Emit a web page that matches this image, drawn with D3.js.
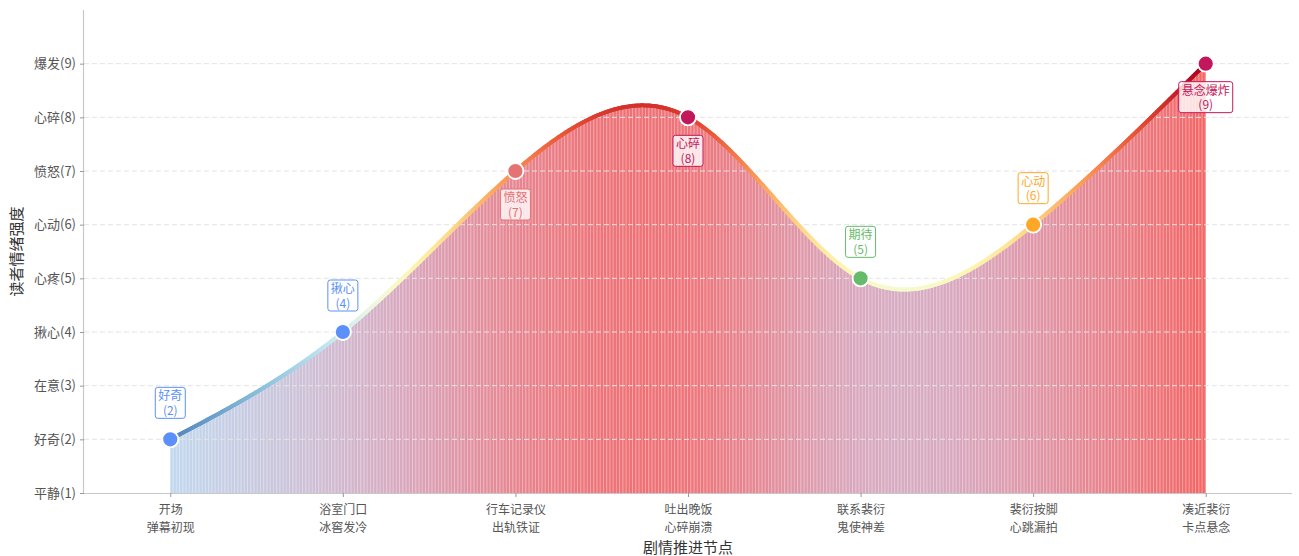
<!DOCTYPE html>
<html>
<head>
<meta charset="utf-8">
<script src="https://cdn.jsdelivr.net/npm/d3@7"></script>
<style>
  body { margin: 0; background: #fff; }
  svg text { font-family: "Noto Sans CJK SC", "Noto Sans", sans-serif; }
</style>
</head>
<body>
<div id="chart"></div>
<script>
// plot nodes
var nodeLabels = [
  ['开场', '弹幕初现'],
  ['浴室门口', '冰窖发冷'],
  ['行车记录仪', '出轨铁证'],
  ['吐出晚饭', '心碎崩溃'],
  ['联系裴衍', '鬼使神差'],
  ['裴衍按脚', '心跳漏拍'],
  ['凑近裴衍', '卡点悬念']
]
var emotionValues = [2, 4, 7, 8, 5, 6, 9]
var pointNames = ['好奇', '揪心', '愤怒', '心碎', '期待', '心动', '悬念爆炸']
var pointColors = ['#5b8ff9', '#5b8ff9', '#e57373', '#c2185b', '#66bb6a', '#ffa726', '#c2185b']
var labelAbove = [true, true, false, false, true, true, false]

var yTickValues = [1, 2, 3, 4, 5, 6, 7, 8, 9]
var yTickLabels = ['平静(1)', '好奇(2)', '在意(3)', '揪心(4)', '心疼(5)', '心动(6)', '愤怒(7)', '心碎(8)', '爆发(9)']

var margin = { top: 10, left: 84, right: 7, bottom: 63 }
var width = 1299 - margin.left - margin.right
var height = 556 - margin.top - margin.bottom

var svg = d3
  .select('#chart')
  .append('svg')
  .attr('width', width + margin.left + margin.right)
  .attr('height', height + margin.top + margin.bottom)
  .append('g')
  .attr('transform', `translate(${margin.left},${margin.top})`)

var xPositionScale = d3.scaleLinear().domain([-0.5, 6.5]).range([0, width])
var yPositionScale = d3.scaleLinear().domain([1, 10]).range([height, 0])

// colours: line follows RdYlBu reversed, fill goes blue -> pink -> red
var lineColor = v => d3.interpolateRdYlBu(1 - (v - 1) / 8)
var fillColor = d3
  .scaleLinear()
  .domain([2, 5, 9])
  .range(['#c2d8ee', '#d9a8be', '#f46464'])
  .interpolate(d3.interpolateRgb)
  .clamp(true)

var data = emotionValues.map((v, i) => ({ i: i, v: v }))

// smooth curve, sampled so we can colour it piece by piece
var line = d3
  .line()
  .x(d => xPositionScale(d.i))
  .y(d => yPositionScale(d.v))
  .curve(d3.curveNatural)

var guide = svg
  .append('path')
  .attr('d', line(data))
  .attr('fill', 'none')
  .attr('stroke', 'none')

var node = guide.node()
var total = node.getTotalLength()
var samples = d3.range(0, 801).map(k => {
  var p = node.getPointAtLength((total * k) / 800)
  return { x: p.x, y: p.y }
})
samples.sort((a, b) => a.x - b.x)

function curveYAt(px) {
  var idx = d3.bisector(d => d.x).left(samples, px)
  if (idx <= 0) return samples[0].y
  if (idx >= samples.length) return samples[samples.length - 1].y
  var a = samples[idx - 1]
  var b = samples[idx]
  var t = b.x === a.x ? 0 : (px - a.x) / (b.x - a.x)
  return a.y + (b.y - a.y) * t
}

/* striped fill under the curve */
var x0 = xPositionScale(0)
var x1 = xPositionScale(6)
var step = (x1 - x0) / 320
var stripes = d3.range(0, 320).map(k => x0 + k * step)

var fillG = svg.append('g').attr('class', 'fill')
stripes.forEach(sx => {
  var cy = curveYAt(sx + step / 2)
  var v = yPositionScale.invert(cy)
  fillG
    .append('rect')
    .attr('x', sx)
    .attr('y', cy)
    .attr('width', step + 0.2)
    .attr('height', height - cy)
    .attr('fill', fillColor(v))
  fillG
    .append('rect')
    .attr('x', sx + step - 0.9)
    .attr('y', cy)
    .attr('width', 0.9)
    .attr('height', height - cy)
    .attr('fill', '#fff')
    .attr('opacity', 0.42)
})

/* grid */
svg
  .append('g')
  .attr('class', 'grid')
  .selectAll('line')
  .data(yTickValues.slice(1))
  .enter()
  .append('line')
  .attr('x1', 0)
  .attr('x2', width)
  .attr('y1', d => yPositionScale(d))
  .attr('y2', d => yPositionScale(d))
  .attr('stroke', '#e4e4e4')
  .attr('stroke-width', 1)
  .attr('stroke-dasharray', '5,3')

/* gradient line */
var lineG = svg.append('g').attr('class', 'curve')
for (var k = 0; k < samples.length - 1; k++) {
  var a = samples[k]
  var b = samples[k + 1]
  var v = yPositionScale.invert((a.y + b.y) / 2)
  lineG
    .append('line')
    .attr('x1', a.x)
    .attr('y1', a.y)
    .attr('x2', b.x)
    .attr('y2', b.y)
    .attr('stroke', lineColor(v))
    .attr('stroke-width', 4)
    .attr('stroke-linecap', 'round')
}

/* axes */
var xAxis = d3
  .axisBottom(xPositionScale)
  .tickValues(d3.range(0, 7))
  .tickSize(4)
  .tickFormat('')
var xg = svg
  .append('g')
  .attr('class', 'axis x-axis')
  .attr('transform', 'translate(0,' + height + ')')
  .call(xAxis)

var yAxis = d3
  .axisLeft(yPositionScale)
  .tickValues(yTickValues)
  .tickSize(4)
  .tickFormat((d, i) => yTickLabels[i])
var yg = svg
  .append('g')
  .attr('class', 'axis y-axis')
  .call(yAxis)

svg.selectAll('.axis .domain').attr('stroke', '#c8c8c8').attr('stroke-width', 1.2)
svg.selectAll('.axis .tick line').attr('stroke', '#999')
yg.select('.domain').attr('d', `M-0.5,${height}V0`)
xg.select('.domain').attr('d', `M0,0.5H${width}`)
yg.selectAll('.tick text')
  .attr('x', -8)
  .attr('fill', '#555')
  .style('font-size', '13px')

// two-line node labels, each line its own text
xg.selectAll('.tick').each(function(d) {
  var g = d3.select(this)
  nodeLabels[d].forEach((s, j) => {
    g.append('text')
      .attr('fill', '#555')
      .attr('text-anchor', 'middle')
      .attr('x', 0)
      .attr('y', 21 + j * 17.5)
      .style('font-size', '12px')
      .text(s)
  })
})

svg
  .append('text')
  .attr('x', width / 2)
  .attr('y', height + 60)
  .attr('text-anchor', 'middle')
  .attr('fill', '#333')
  .style('font-size', '15px')
  .text('剧情推进节点')

svg
  .append('text')
  .attr('transform', `translate(${-62},${height / 2}) rotate(-90)`)
  .attr('text-anchor', 'middle')
  .attr('fill', '#333')
  .style('font-size', '15px')
  .text('读者情绪强度')

/* points and annotation boxes */
svg
  .selectAll('.pt')
  .data(data)
  .enter()
  .append('g')
  .attr('class', 'pt')
  .attr('transform', d => `translate(${xPositionScale(d.i)},${yPositionScale(d.v)})`)
  .each(function(d) {
    var g = d3.select(this)
    g.append('circle')
      .attr('r', 8)
      .attr('fill', pointColors[d.i])
      .attr('stroke', '#fff')
      .attr('stroke-width', 1.8)

    var dy = labelAbove[d.i] ? -37 : 33
    var box = g.append('g').attr('transform', `translate(0,${dy})`)
    var rect = box.append('rect')
    var t1 = box
      .append('text')
      .attr('text-anchor', 'middle')
      .attr('fill', pointColors[d.i])
      .attr('x', 0)
      .attr('y', -2)
      .style('font-size', '12px')
      .text(pointNames[d.i])
    box
      .append('text')
      .attr('text-anchor', 'middle')
      .attr('fill', pointColors[d.i])
      .attr('x', 0)
      .attr('y', 12.5)
      .style('font-size', '12px')
      .text(`(${d.v})`)
    var bb = t1.node().getBBox()
    rect
      .attr('x', bb.x - 3)
      .attr('y', -15)
      .attr('width', bb.width + 6)
      .attr('height', 31)
      .attr('rx', 2.5)
      .attr('fill', '#fff')
      .attr('fill-opacity', 0.8)
      .attr('stroke', pointColors[d.i])
      .attr('stroke-width', 1)
  })
</script>
</body>
</html>
